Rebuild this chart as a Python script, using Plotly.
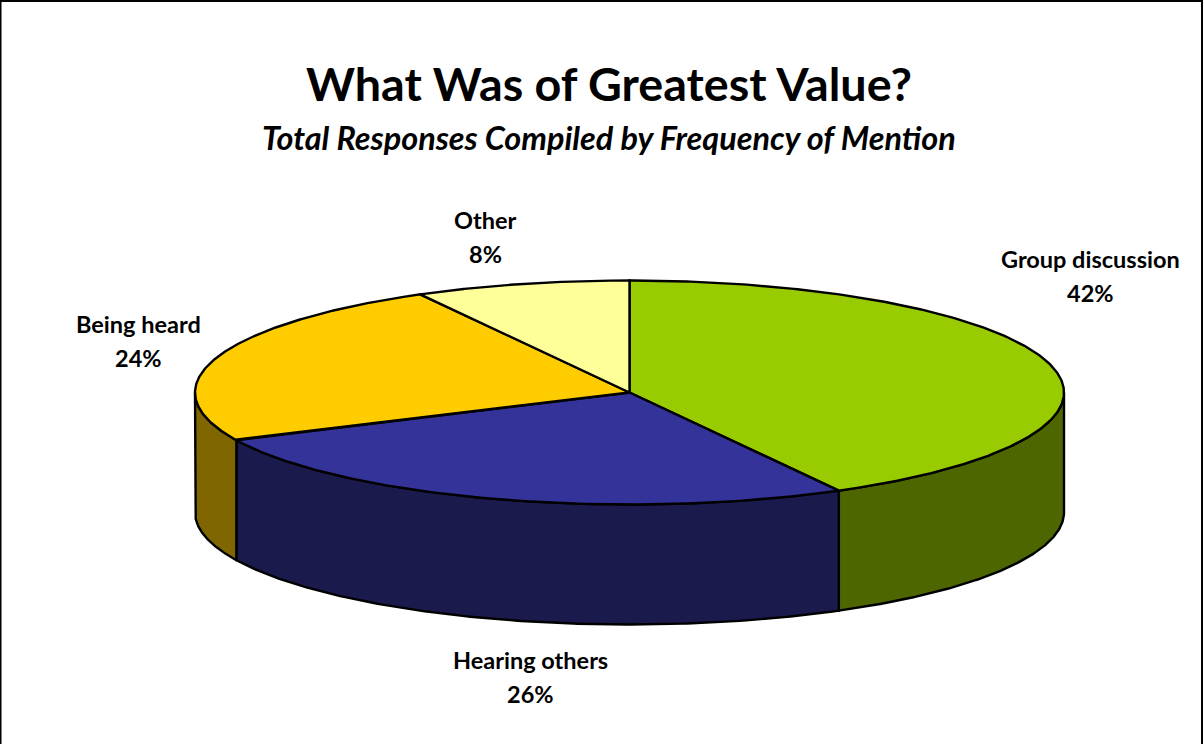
import numpy as np
import plotly.graph_objects as go

categories = ["Group discussion", "Hearing others", "Being heard", "Other"]
shares = [42, 26, 24, 8]
top_colors = ["#99CC00", "#333399", "#FFCC00", "#FFFF99"]
side_colors = ["#4D6600", "#1A1A4D", "#806600", "#808050"]
label_x = [1090, 530, 138, 485]
label_y = [259, 660, 324, 220]
LINE_GAP = 34

W, H = 1204, 744
CX, CY, RX, RY, DEPTH = 629.5, 392.5, 434.5, 112, 120


def ellipse(t, dy=0.0):
    return CX + RX * np.sin(t), CY - RY * np.cos(t) + dy


fig = go.Figure()
fracs = np.cumsum([0] + shares) / sum(shares) * 2 * np.pi
line = dict(color="black", width=2.4)

# Side walls (only the front half of the rim, pi/2 .. 3pi/2)
for i in range(len(shares)):
    a = max(fracs[i], np.pi / 2)
    b = min(fracs[i + 1], 3 * np.pi / 2)
    if a >= b:
        continue
    t = np.linspace(a, b, 200)
    x1, y1 = ellipse(t)
    x2, y2 = ellipse(t[::-1], DEPTH)
    fig.add_trace(go.Scatter(
        x=np.r_[x1, x2, x1[0]], y=np.r_[y1, y2, y1[0]], mode="lines",
        fill="toself", fillcolor=side_colors[i], line=line, hoverinfo="skip",
        name=categories[i] + " side", showlegend=False))

# Top faces
for i in range(len(shares)):
    t = np.linspace(fracs[i], fracs[i + 1], 300)
    x, y = ellipse(t)
    fig.add_trace(go.Scatter(
        x=np.r_[CX, x, CX], y=np.r_[CY, y, CY], mode="lines",
        fill="toself", fillcolor=top_colors[i], line=line,
        name=categories[i], showlegend=False))

font = "Lato"
for cat, val, lx, ly in zip(categories, shares, label_x, label_y):
    for text, yy in ((cat, ly), (f"{val}%", ly + LINE_GAP)):
        fig.add_annotation(x=lx, y=yy, text=f"<b>{text}</b>", showarrow=False,
                           font=dict(family=font, size=23.5, color="black"),
                           align="center", yanchor="middle", xanchor="center")

fig.add_annotation(x=608.5, y=83, text="<b>What Was of Greatest Value?</b>", showarrow=False,
                   font=dict(family=font, size=46.7, color="black"))
fig.add_annotation(x=609, y=137.5, text="<b><i>Total Responses Compiled by Frequency of Mention</i></b>",
                   showarrow=False, font=dict(family=font, size=32.4, color="black"))

# Frame: top and side edges only, the bottom edge is cut off by the page
fig.add_shape(type="rect", x0=0.5, y0=1, x1=W - 2, y1=H + 5, line=dict(color="black", width=2),
              layer="above")

fig.update_layout(
    width=W, height=H, margin=dict(l=0, r=0, t=0, b=0),
    paper_bgcolor="white", plot_bgcolor="white", showlegend=False,
    xaxis=dict(range=[0, W], visible=False, fixedrange=True),
    yaxis=dict(range=[H, 0], visible=False, fixedrange=True),
)
fig.write_html("out.html", config={"displayModeBar": False},
               post_script="document.body.style.margin='0';document.documentElement.style.overflow='hidden';")
